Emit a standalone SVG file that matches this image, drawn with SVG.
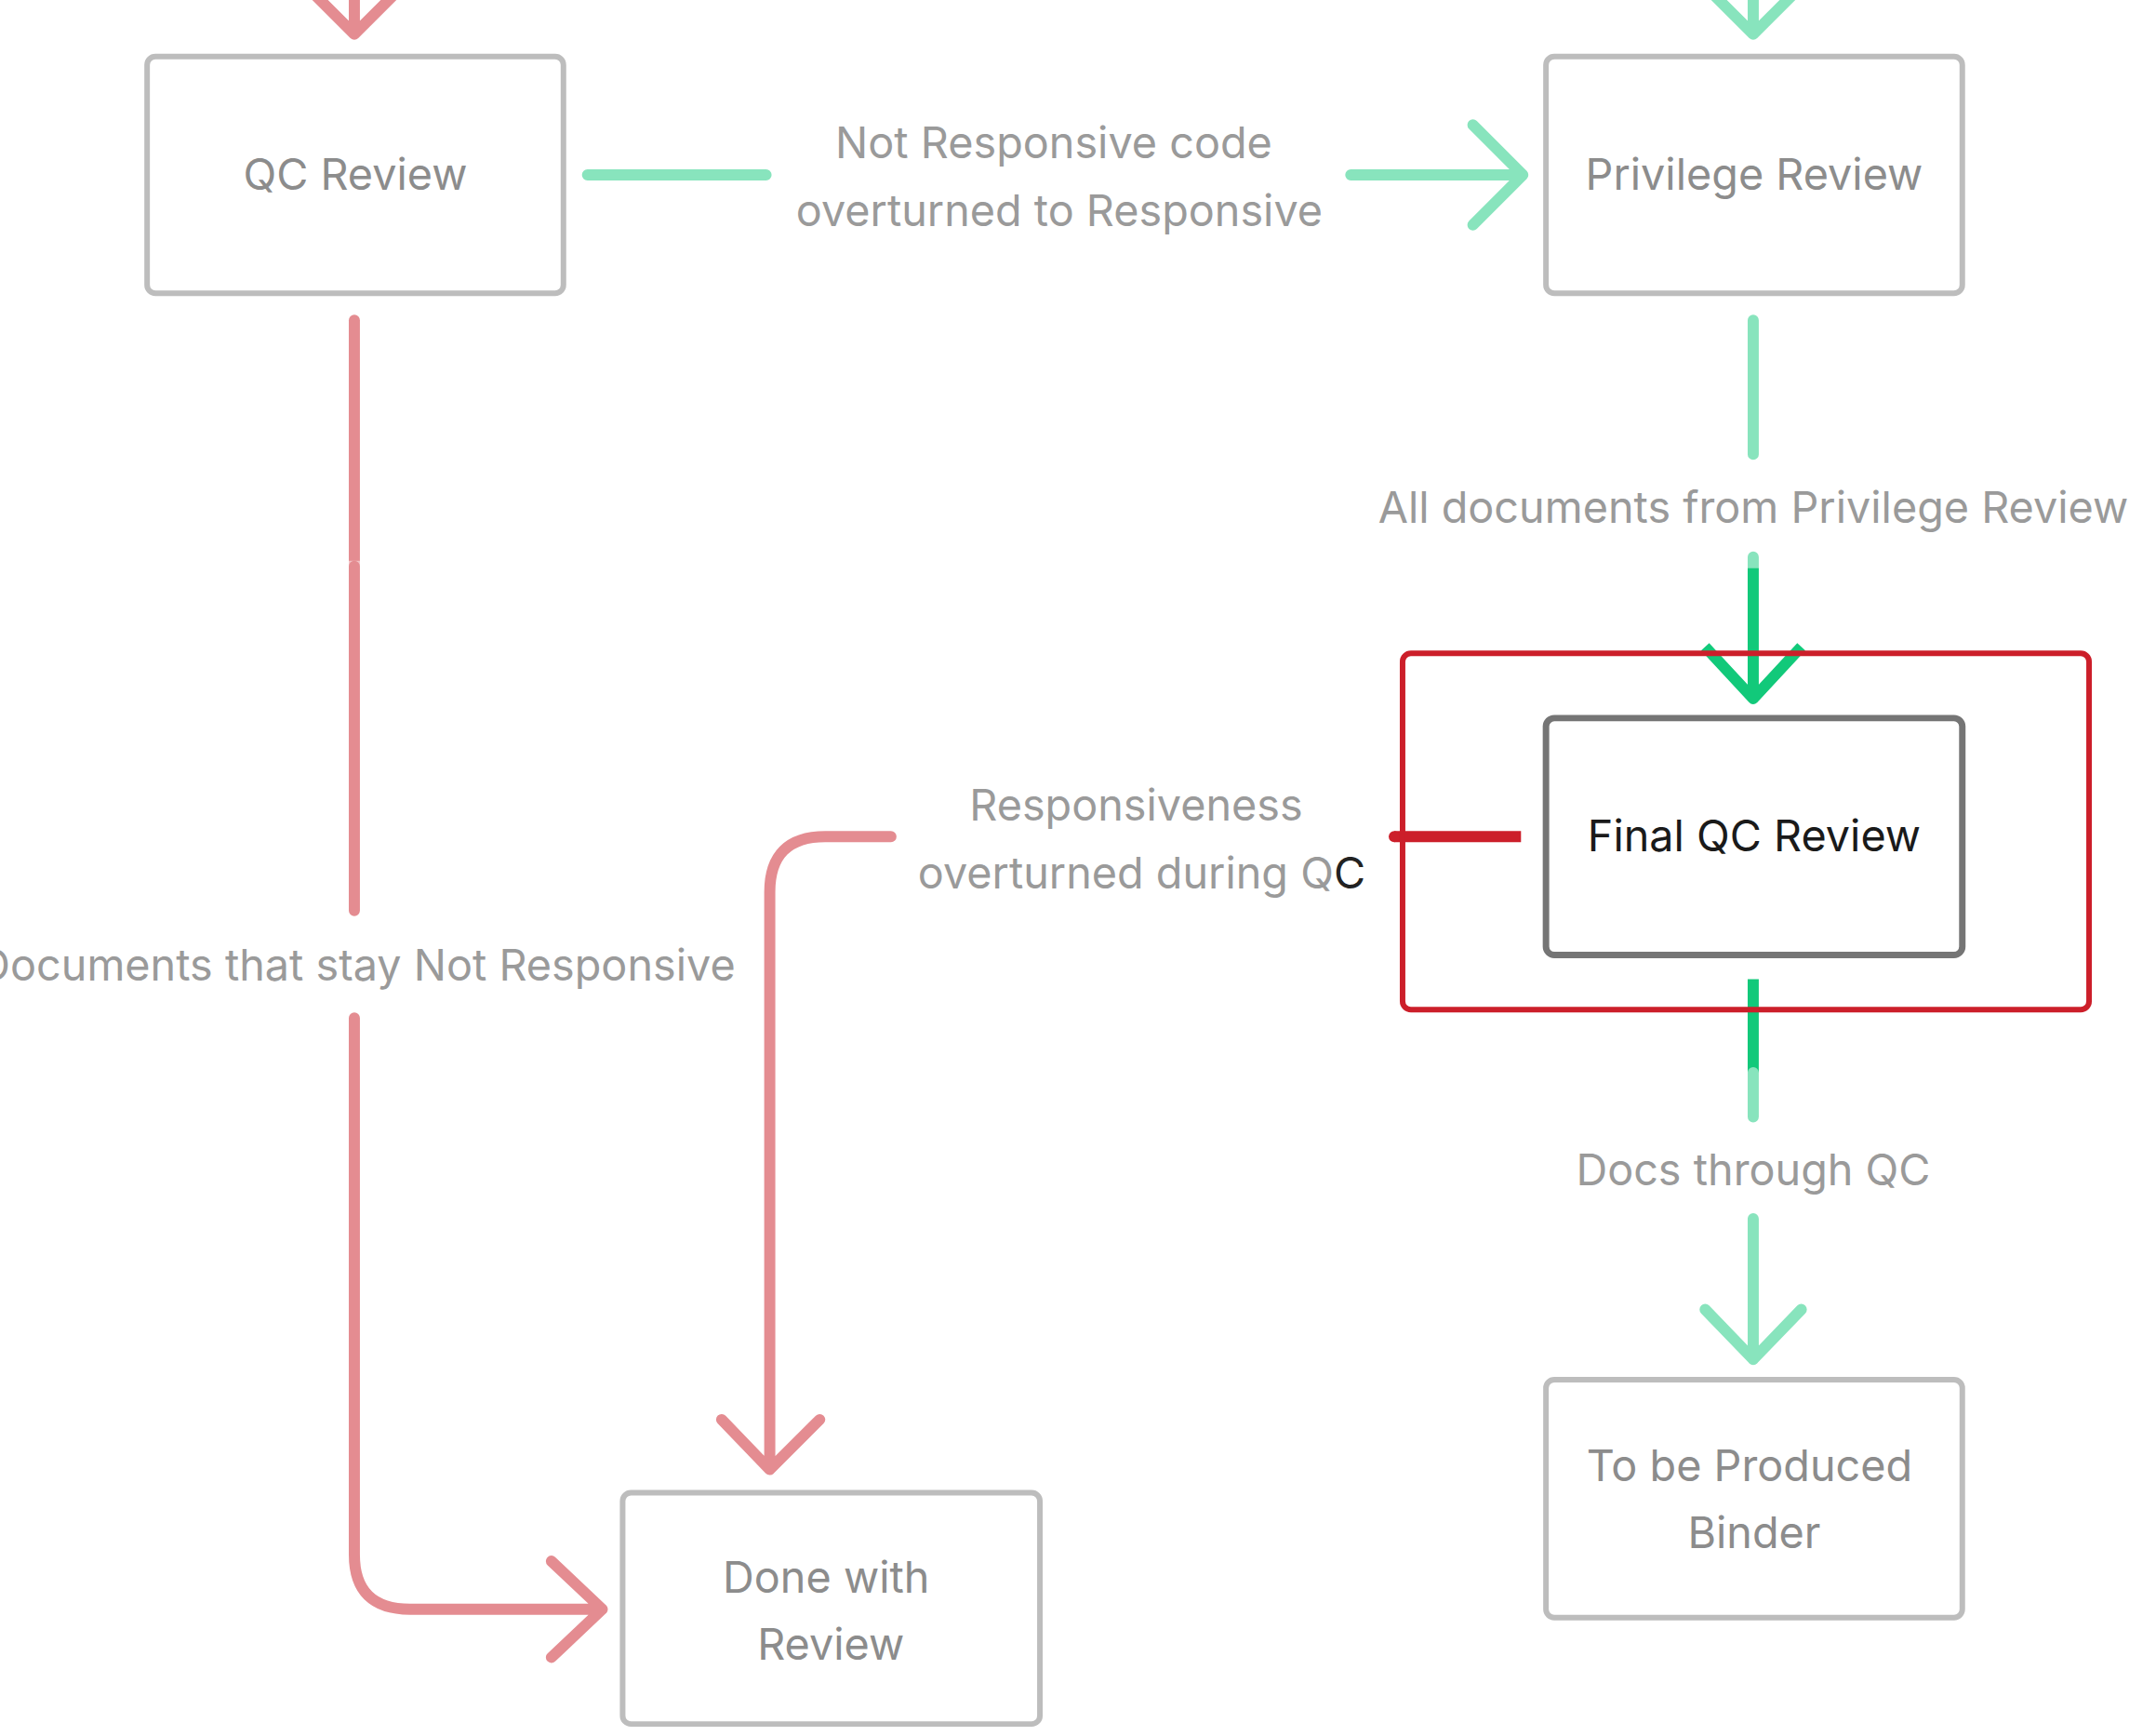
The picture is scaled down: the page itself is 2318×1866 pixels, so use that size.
<svg xmlns="http://www.w3.org/2000/svg" width="2318" height="1866" viewBox="0 0 2318 1866">
<style>
.box{fill:#fff;stroke:#bdbdbd;stroke-width:6}
.t{font-family:Inter,"Liberation Sans",sans-serif;font-size:47px;fill:#8c8c8c;text-anchor:middle}
.l{font-family:Inter,"Liberation Sans",sans-serif;font-size:47px;fill:#9a9a9a;text-anchor:middle}
.g{fill:none;stroke:#88e4bd;stroke-width:12;stroke-linecap:round;stroke-linejoin:round}
.gd{fill:none;stroke:#12c97a;stroke-width:12;stroke-linejoin:round}
.r{fill:none;stroke:#e48c91;stroke-width:12;stroke-linecap:round;stroke-linejoin:round}
.rd{fill:none;stroke:#cc1f2a;stroke-width:12;stroke-linecap:round}
</style>
<rect width="2318" height="1866" fill="#fff"/>
<g transform="scale(0.9947)">
<g id="connectors">
<path class="r" d="M383,-10V37M341,-5L383,37L425,-5"/>
<path class="g" d="M1895,-10V37M1853,-5L1895,37L1937,-5"/>
<path class="g" d="M635,189H828M1460,189H1646M1592,135L1646,189L1592,243"/>
<path class="g" d="M1895,346V491M1895,602V614"/>
<path class="gd" d="M1895,614V755M1843,699L1895,755L1947,699"/>
<path class="gd" d="M1895,1058V1159"/>
<path class="g" d="M1895,1159V1207M1895,1317V1469M1843,1415L1895,1469L1947,1415"/>
<path class="rd" d="M1644,904H1507" style="stroke-linecap:butt"/>
<circle cx="1507" cy="904" r="6" fill="#cc1f2a"/>
<path class="r" d="M963,904H892Q832,904 832,964V1588M780,1534L832,1588L886,1534"/>
<path class="r" d="M383,346V606"/>
<path stroke="#f3c4c7" stroke-width="12" d="M383,606V612"/>
<path class="r" d="M383,612V984M383,1100V1680Q383,1739 443,1739H651M596,1687L651,1739L596,1791"/>
<text class="l" x="1139" y="171">Not Responsive code</text>
<text class="l" x="1145" y="244">overturned to Responsive</text>
<text class="l" x="1895" y="565">All documents from Privilege Review</text>
<text class="l" x="1895" y="1281">Docs through QC</text>
<text class="l" x="1228" y="887">Responsiveness</text>
<text class="l" x="1234" y="960">overturned during Q<tspan fill="#222">C</tspan></text>
<text class="l" x="386" y="1060">Documents that stay Not Responsive</text>
</g>
<g id="qc"><rect class="box" x="159" y="61" width="450" height="256" rx="9"/><text class="t" x="384" y="205">QC Review</text></g>
<g id="priv"><rect class="box" x="1671" y="61" width="450" height="256" rx="9"/><text class="t" x="1896" y="205">Privilege Review</text></g>
<g id="final">
<rect x="1516" y="706" width="742" height="385" rx="9" fill="none" stroke="#cc1f2a" stroke-width="6"/>
<rect x="1671" y="776" width="450" height="256" rx="9" fill="#fff" stroke="#757575" stroke-width="7"/>
<text class="t" x="1896" y="920" style="fill:#1a1a1a">Final QC Review</text>
</g>
<g id="binder"><rect class="box" x="1671" y="1491" width="450" height="257" rx="9"/><text class="t" x="1891" y="1600">To be Produced</text><text class="t" x="1896" y="1673">Binder</text></g>
<g id="done"><rect class="box" x="673" y="1613" width="451" height="250" rx="9"/><text class="t" x="893" y="1721">Done with</text><text class="t" x="898" y="1794">Review</text></g>
</g>
</svg>
